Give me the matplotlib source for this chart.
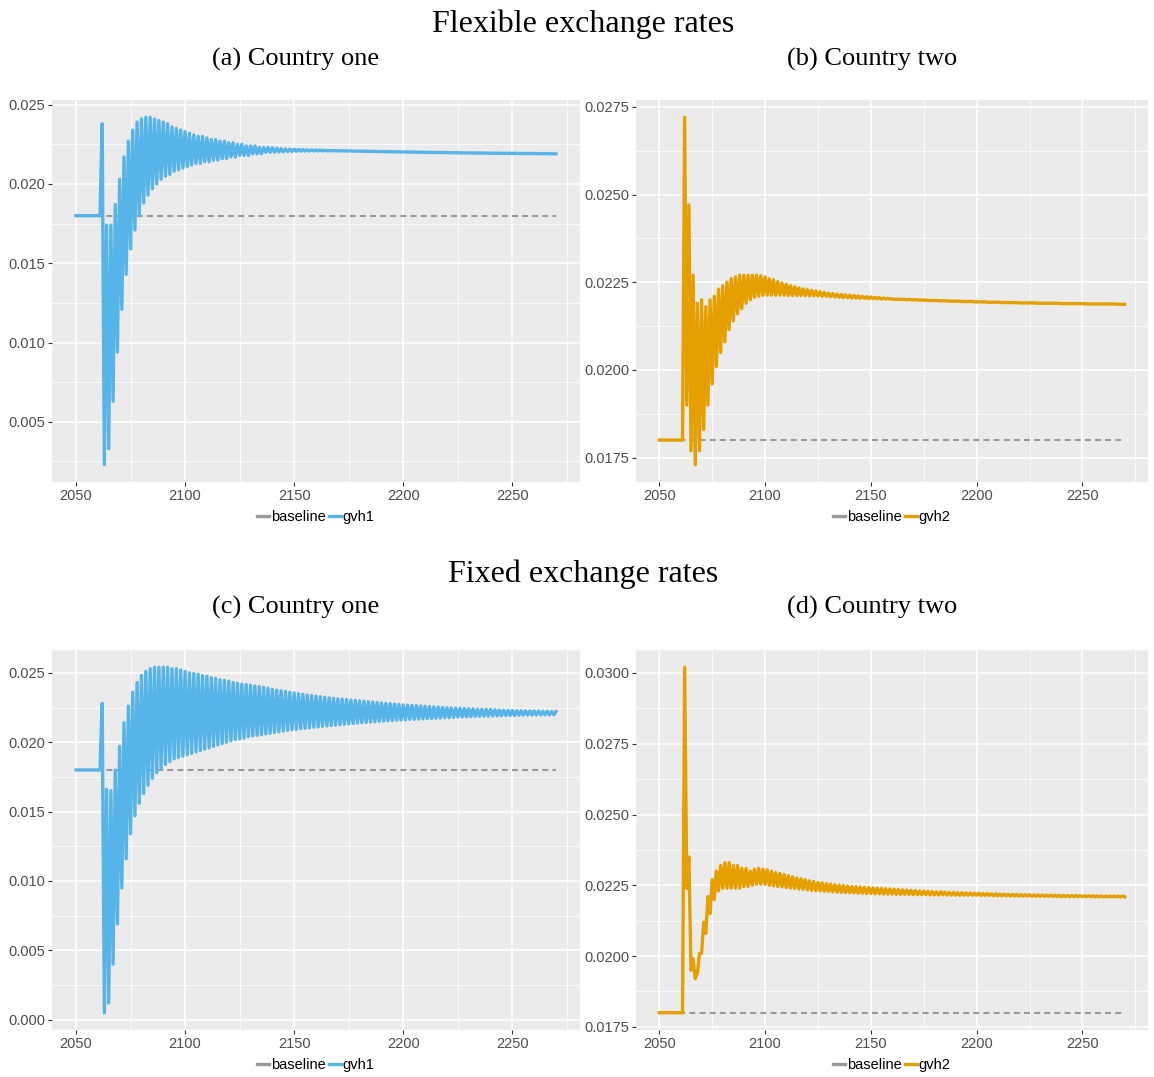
import numpy as np
import matplotlib
matplotlib.use("Agg")
import matplotlib.pyplot as plt
from matplotlib.lines import Line2D
from matplotlib.ticker import MultipleLocator, FormatStrFormatter

plt.rcParams["lines.scale_dashes"] = False

years = list(range(2050, 2271))
baseline = 1.80  # growth rate in percent

# flexible exchange rates, country one (gvh1), percent
flex_one = [
    1.80, 1.80, 1.80, 1.80, 1.80, 1.80, 1.80, 1.80, 1.80, 1.80,
    1.80, 1.80, 2.38, 0.23, 1.74, 0.33, 1.74, 0.63, 1.87, 0.94,
    2.03, 1.21, 2.17, 1.43, 2.27, 1.59, 2.34, 1.71, 2.39, 1.80,
    2.41, 1.88, 2.42, 1.93, 2.42, 1.97, 2.41, 2.00, 2.40, 2.03,
    2.39, 2.05, 2.38, 2.06, 2.36, 2.08, 2.35, 2.09, 2.34, 2.10,
    2.33, 2.11, 2.32, 2.12, 2.31, 2.13, 2.30, 2.13, 2.30, 2.14,
    2.29, 2.14, 2.28, 2.15, 2.28, 2.15, 2.27, 2.16, 2.27, 2.16,
    2.26, 2.17, 2.26, 2.17, 2.25, 2.18, 2.25, 2.18, 2.24, 2.18,
    2.24, 2.19, 2.24, 2.19, 2.23, 2.19, 2.23, 2.20, 2.23, 2.20,
    2.228, 2.200, 2.225, 2.202, 2.223, 2.203, 2.221, 2.204, 2.220, 2.205,
    2.219, 2.206, 2.218, 2.207, 2.217, 2.207, 2.216, 2.208, 2.215, 2.208,
    2.214, 2.209, 2.213, 2.209, 2.212, 2.209, 2.211, 2.209, 2.211, 2.209,
    2.210, 2.209, 2.209, 2.209, 2.208, 2.208, 2.208, 2.208, 2.207, 2.207,
    2.207, 2.207, 2.206, 2.206, 2.206, 2.206, 2.205, 2.205, 2.205, 2.205,
    2.204, 2.204, 2.204, 2.204, 2.203, 2.203, 2.203, 2.203, 2.202, 2.202,
    2.202, 2.202, 2.201, 2.201, 2.201, 2.201, 2.200, 2.200, 2.200, 2.200,
    2.200, 2.199, 2.199, 2.199, 2.199, 2.199, 2.198, 2.198, 2.198, 2.198,
    2.198, 2.197, 2.197, 2.197, 2.197, 2.197, 2.196, 2.196, 2.196, 2.196,
    2.196, 2.196, 2.195, 2.195, 2.195, 2.195, 2.195, 2.195, 2.194, 2.194,
    2.194, 2.194, 2.194, 2.194, 2.194, 2.193, 2.193, 2.193, 2.193, 2.193,
    2.193, 2.193, 2.193, 2.192, 2.192, 2.192, 2.192, 2.192, 2.192, 2.192,
    2.192, 2.191, 2.191, 2.191, 2.191, 2.191, 2.191, 2.191, 2.190, 2.190,
    2.190,
]

# flexible exchange rates, country two (gvh2), percent
flex_two = [
    1.80, 1.80, 1.80, 1.80, 1.80, 1.80, 1.80, 1.80, 1.80, 1.80,
    1.80, 1.80, 2.72, 1.90, 2.47, 1.77, 2.27, 1.73, 2.19, 1.77,
    2.20, 1.83, 2.18, 1.90, 2.20, 1.96, 2.21, 2.01, 2.23, 2.05,
    2.24, 2.08, 2.25, 2.115, 2.26, 2.14, 2.265, 2.16, 2.27, 2.175,
    2.27, 2.19, 2.27, 2.20, 2.27, 2.207, 2.27, 2.21, 2.268, 2.213,
    2.265, 2.213, 2.260, 2.213, 2.257, 2.213, 2.252, 2.213, 2.248, 2.213,
    2.244, 2.212, 2.240, 2.212, 2.237, 2.212, 2.234, 2.212, 2.231, 2.212,
    2.229, 2.211, 2.227, 2.211, 2.225, 2.211, 2.223, 2.210, 2.221, 2.210,
    2.219, 2.209, 2.218, 2.208, 2.216, 2.207, 2.215, 2.206, 2.214, 2.206,
    2.213, 2.205, 2.212, 2.205, 2.211, 2.204, 2.210, 2.204, 2.209, 2.203,
    2.208, 2.203, 2.207, 2.203, 2.206, 2.202, 2.205, 2.202, 2.204, 2.202,
    2.203, 2.201, 2.202, 2.201, 2.202, 2.201, 2.201, 2.200, 2.201, 2.200,
    2.200, 2.200, 2.200, 2.199, 2.199, 2.199, 2.199, 2.198, 2.198, 2.198,
    2.198, 2.198, 2.197, 2.197, 2.197, 2.197, 2.197, 2.196, 2.196, 2.196,
    2.196, 2.196, 2.196, 2.195, 2.195, 2.195, 2.195, 2.195, 2.195, 2.194,
    2.194, 2.194, 2.194, 2.194, 2.194, 2.193, 2.193, 2.193, 2.193, 2.193,
    2.193, 2.193, 2.192, 2.192, 2.192, 2.192, 2.192, 2.192, 2.192, 2.192,
    2.191, 2.191, 2.191, 2.191, 2.191, 2.191, 2.191, 2.191, 2.191, 2.190,
    2.190, 2.190, 2.190, 2.190, 2.190, 2.190, 2.190, 2.190, 2.190, 2.190,
    2.189, 2.189, 2.189, 2.189, 2.189, 2.189, 2.189, 2.189, 2.189, 2.189,
    2.189, 2.189, 2.188, 2.188, 2.188, 2.188, 2.188, 2.188, 2.188, 2.188,
    2.188, 2.188, 2.188, 2.188, 2.188, 2.188, 2.188, 2.187, 2.187, 2.187,
    2.187,
]

# fixed exchange rates, country one (gvh1), percent
fixed_one = [
    1.80, 1.80, 1.80, 1.80, 1.80, 1.80, 1.80, 1.80, 1.80, 1.80,
    1.80, 1.80, 2.28, 0.05, 1.66, 0.12, 1.65, 0.40, 1.80, 0.69,
    1.97, 0.95, 2.14, 1.16, 2.26, 1.34, 2.36, 1.47, 2.43, 1.56,
    2.48, 1.63, 2.51, 1.69, 2.53, 1.74, 2.54, 1.78, 2.54, 1.81,
    2.54, 1.84, 2.54, 1.86, 2.53, 1.88, 2.53, 1.89, 2.52, 1.90,
    2.51, 1.91, 2.50, 1.92, 2.495, 1.93, 2.49, 1.94, 2.48, 1.95,
    2.475, 1.96, 2.465, 1.97, 2.46, 1.98, 2.45, 1.99, 2.445, 2.00,
    2.44, 2.01, 2.43, 2.02, 2.425, 2.025, 2.42, 2.03, 2.415, 2.04,
    2.41, 2.045, 2.405, 2.05, 2.40, 2.055, 2.395, 2.06, 2.39, 2.065,
    2.38, 2.07, 2.375, 2.075, 2.37, 2.08, 2.365, 2.085, 2.36, 2.09,
    2.355, 2.093, 2.35, 2.097, 2.345, 2.10, 2.34, 2.104, 2.336, 2.108,
    2.332, 2.111, 2.328, 2.114, 2.324, 2.117, 2.32, 2.12, 2.316, 2.123,
    2.313, 2.126, 2.31, 2.129, 2.307, 2.132, 2.304, 2.135, 2.301, 2.138,
    2.298, 2.14, 2.295, 2.142, 2.292, 2.145, 2.289, 2.147, 2.286, 2.15,
    2.283, 2.152, 2.28, 2.154, 2.277, 2.156, 2.274, 2.158, 2.272, 2.16,
    2.269, 2.162, 2.267, 2.164, 2.265, 2.165, 2.263, 2.167, 2.261, 2.168,
    2.259, 2.17, 2.257, 2.171, 2.255, 2.173, 2.253, 2.174, 2.251, 2.176,
    2.249, 2.177, 2.247, 2.179, 2.245, 2.181, 2.244, 2.182, 2.242, 2.183,
    2.241, 2.184, 2.24, 2.185, 2.238, 2.186, 2.237, 2.187, 2.236, 2.188,
    2.235, 2.189, 2.234, 2.19, 2.232, 2.191, 2.231, 2.192, 2.23, 2.193,
    2.229, 2.193, 2.228, 2.194, 2.227, 2.195, 2.226, 2.195, 2.226, 2.196,
    2.225, 2.196, 2.224, 2.197, 2.223, 2.197, 2.223, 2.198, 2.222, 2.198,
    2.221,
]

# fixed exchange rates, country two (gvh2), percent
fixed_two = [
    1.80, 1.80, 1.80, 1.80, 1.80, 1.80, 1.80, 1.80, 1.80, 1.80,
    1.80, 1.80, 3.02, 2.24, 2.35, 1.95, 1.99, 1.92, 1.94, 2.01,
    2.01, 2.12, 2.08, 2.21, 2.15, 2.27, 2.20, 2.30, 2.23, 2.32,
    2.24, 2.33, 2.24, 2.33, 2.24, 2.32, 2.24, 2.32, 2.24, 2.31,
    2.245, 2.31, 2.246, 2.30, 2.25, 2.307, 2.254, 2.31, 2.254, 2.307,
    2.254, 2.305, 2.25, 2.30, 2.248, 2.295, 2.246, 2.292, 2.244, 2.288,
    2.242, 2.284, 2.240, 2.28, 2.239, 2.276, 2.237, 2.273, 2.236, 2.27,
    2.234, 2.266, 2.232, 2.263, 2.231, 2.26, 2.23, 2.258, 2.229, 2.256,
    2.228, 2.254, 2.227, 2.252, 2.226, 2.25, 2.225, 2.249, 2.224, 2.247,
    2.224, 2.246, 2.223, 2.245, 2.222, 2.244, 2.222, 2.243, 2.221, 2.242,
    2.221, 2.241, 2.220, 2.240, 2.220, 2.239, 2.219, 2.238, 2.219, 2.237,
    2.219, 2.236, 2.218, 2.235, 2.218, 2.234, 2.218, 2.233, 2.218, 2.232,
    2.217, 2.231, 2.217, 2.230, 2.217, 2.230, 2.217, 2.229, 2.216, 2.228,
    2.216, 2.227, 2.216, 2.227, 2.216, 2.226, 2.216, 2.225, 2.215, 2.225,
    2.215, 2.224, 2.215, 2.224, 2.215, 2.223, 2.215, 2.223, 2.215, 2.222,
    2.215, 2.222, 2.214, 2.221, 2.214, 2.221, 2.214, 2.220, 2.213, 2.220,
    2.213, 2.219, 2.213, 2.219, 2.213, 2.218, 2.212, 2.218, 2.212, 2.218,
    2.212, 2.217, 2.212, 2.217, 2.212, 2.217, 2.211, 2.216, 2.211, 2.216,
    2.211, 2.216, 2.211, 2.215, 2.211, 2.215, 2.211, 2.215, 2.210, 2.215,
    2.210, 2.214, 2.210, 2.214, 2.210, 2.214, 2.210, 2.214, 2.210, 2.213,
    2.210, 2.213, 2.210, 2.213, 2.210, 2.213, 2.209, 2.213, 2.209, 2.212,
    2.209, 2.212, 2.209, 2.212, 2.209, 2.212, 2.209, 2.212, 2.209, 2.212,
    2.209,
]

BLUE = "#56B4E9"
ORANGE = "#E69F00"
GREY = "#999999"
W, H = 1154, 1077

fig = plt.figure(figsize=(W / 100, H / 100), dpi=100)


def panel(box, series, color, label, step, fmt):
    left, top, right, bottom = box
    ax = fig.add_axes([left / W, 1 - bottom / H, (right - left) / W, (bottom - top) / H])
    vals = np.array(series) / 100
    base = baseline / 100

    # ggplot style 5% expansion
    lo, hi = min(vals.min(), base), max(vals.max(), base)
    pad = 0.05 * (hi - lo)
    ax.set_ylim(lo - pad, hi + pad)
    xpad = 0.05 * (years[-1] - years[0])
    ax.set_xlim(years[0] - xpad, years[-1] + xpad)

    ax.plot([years[0], years[-1]], [base, base], color=GREY, lw=1.5,
            dashes=(4.3, 3.0), zorder=2)
    ax.plot(years, vals, color=color, lw=2.4, zorder=3)

    ax.set_facecolor("#EBEBEB")
    for s in ax.spines.values():
        s.set_visible(False)
    ax.xaxis.set_major_locator(MultipleLocator(50))
    ax.xaxis.set_minor_locator(MultipleLocator(25))
    ax.yaxis.set_major_locator(MultipleLocator(step))
    ax.yaxis.set_minor_locator(MultipleLocator(step / 2))
    ax.yaxis.set_major_formatter(FormatStrFormatter(fmt))
    ax.grid(which="major", color="white", lw=1.1)
    ax.grid(which="minor", color="white", lw=0.55)
    ax.set_axisbelow(True)
    ax.tick_params(which="major", length=3, width=0.8, color="#333333",
                   labelsize=10.5, labelcolor="#4D4D4D", pad=2)
    ax.tick_params(which="minor", length=0)
    for t in ax.get_xticklabels() + ax.get_yticklabels():
        t.set_fontfamily("Liberation Sans")

    handles = [Line2D([], [], color=GREY, lw=2.4), Line2D([], [], color=color, lw=2.4)]
    cx = (left + right) / 2
    fig.legend(handles, ["baseline", label], loc="center",
               bbox_to_anchor=(cx / W, 1 - (bottom + 35) / H), ncol=2,
               frameon=False, handlelength=0.8, handletextpad=0.15,
               columnspacing=0.2, prop={"family": "Liberation Sans", "size": 10.5})
    return ax


panel((52, 100, 580, 482), flex_one, BLUE, "gvh1", 0.005, "%.3f")
panel((636, 100, 1148, 482), flex_two, ORANGE, "gvh2", 0.0025, "%.4f")
panel((52, 650, 580, 1030), fixed_one, BLUE, "gvh1", 0.005, "%.3f")
panel((636, 650, 1148, 1030), fixed_two, ORANGE, "gvh2", 0.0025, "%.4f")

serif = {"family": "Liberation Serif", "ha": "center", "va": "center"}
fig.text(583 / W, 1 - 24 / H, "Flexible exchange rates", size=23, **serif)
fig.text(296 / W, 1 - 59 / H, "(a) Country one", size=19, **serif)
fig.text(872 / W, 1 - 59 / H, "(b) Country two", size=19, **serif)
fig.text(583 / W, 1 - 574 / H, "Fixed exchange rates", size=23, **serif)
fig.text(296 / W, 1 - 607 / H, "(c) Country one", size=19, **serif)
fig.text(872 / W, 1 - 607 / H, "(d) Country two", size=19, **serif)

fig.savefig("out.png", dpi=100)
